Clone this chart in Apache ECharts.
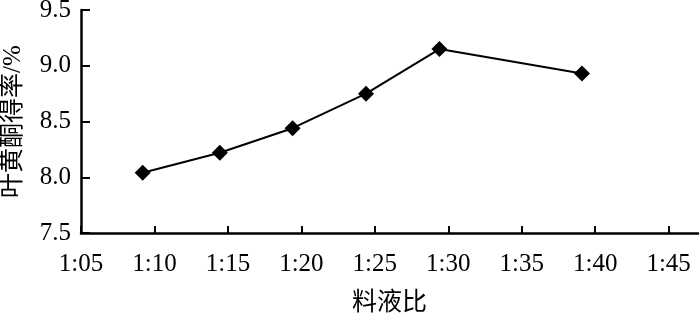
<!DOCTYPE html>
<html><head><meta charset="utf-8">
<script src="https://cdn.jsdelivr.net/npm/echarts@6/dist/echarts.min.js"></script>
<style>html,body{margin:0;padding:0;background:#fff}#c{width:700px;height:314px}</style>
</head><body><div id="c"></div>
<script>
// data
const ratioX = [9.2, 14.45, 19.4, 24.4, 29.4, 39.1];
const yieldY = [8.04, 8.22, 8.44, 8.75, 9.15, 8.93];
const xTicks = [5, 10, 15, 20, 25, 30, 35, 40, 45];
const yTicks = [7.5, 8.0, 8.5, 9.0, 9.5];
const xName = '料液比';
const yName = '叶黄酮得率/%';

const font = "Liberation Serif, Noto Sans CJK SC, serif";
const chart = echarts.init(document.getElementById('c'), null, {renderer: 'canvas'});
chart.setOption({
  animation: false,
  backgroundColor: '#fff',
  grid: {left: 81, right: 2, top: 10, bottom: 81, containLabel: false, outerBoundsMode: 'none'},
  xAxis: {
    type: 'value', min: 5, max: 47, interval: 5,
    name: xName, nameLocation: 'middle', nameGap: 58,
    nameTextStyle: {color: '#000', fontSize: 25, fontFamily: font},
    axisLine: {show: true, lineStyle: {color: '#000', width: 2.5}},
    axisTick: {show: true, inside: true, length: 7, lineStyle: {color: '#000', width: 2}, customValues: xTicks},
    axisLabel: {color: '#000', fontSize: 25, fontFamily: font, margin: 19, customValues: xTicks,
      formatter: v => '1:' + String(v).padStart(2, '0')},
    splitLine: {show: false}
  },
  yAxis: {
    type: 'value', min: 7.5, max: 9.5, interval: 0.5,
    name: yName, nameLocation: 'middle', nameGap: 55,
    nameTextStyle: {color: '#000', fontSize: 25, fontFamily: font},
    axisLine: {show: true, lineStyle: {color: '#000', width: 2.5}},
    axisTick: {show: true, inside: true, length: 9, lineStyle: {color: '#000', width: 2}, customValues: yTicks},
    axisLabel: {color: '#000', fontSize: 25, fontFamily: font, margin: 10, customValues: yTicks,
      formatter: v => v.toFixed(1)},
    splitLine: {show: false}
  },
  series: [{
    type: 'line',
    data: ratioX.map((x, i) => [x, yieldY[i]]),
    symbol: 'diamond', symbolSize: 16,
    lineStyle: {color: '#000', width: 2},
    itemStyle: {color: '#000'}
  }]
});
</script></body></html>
